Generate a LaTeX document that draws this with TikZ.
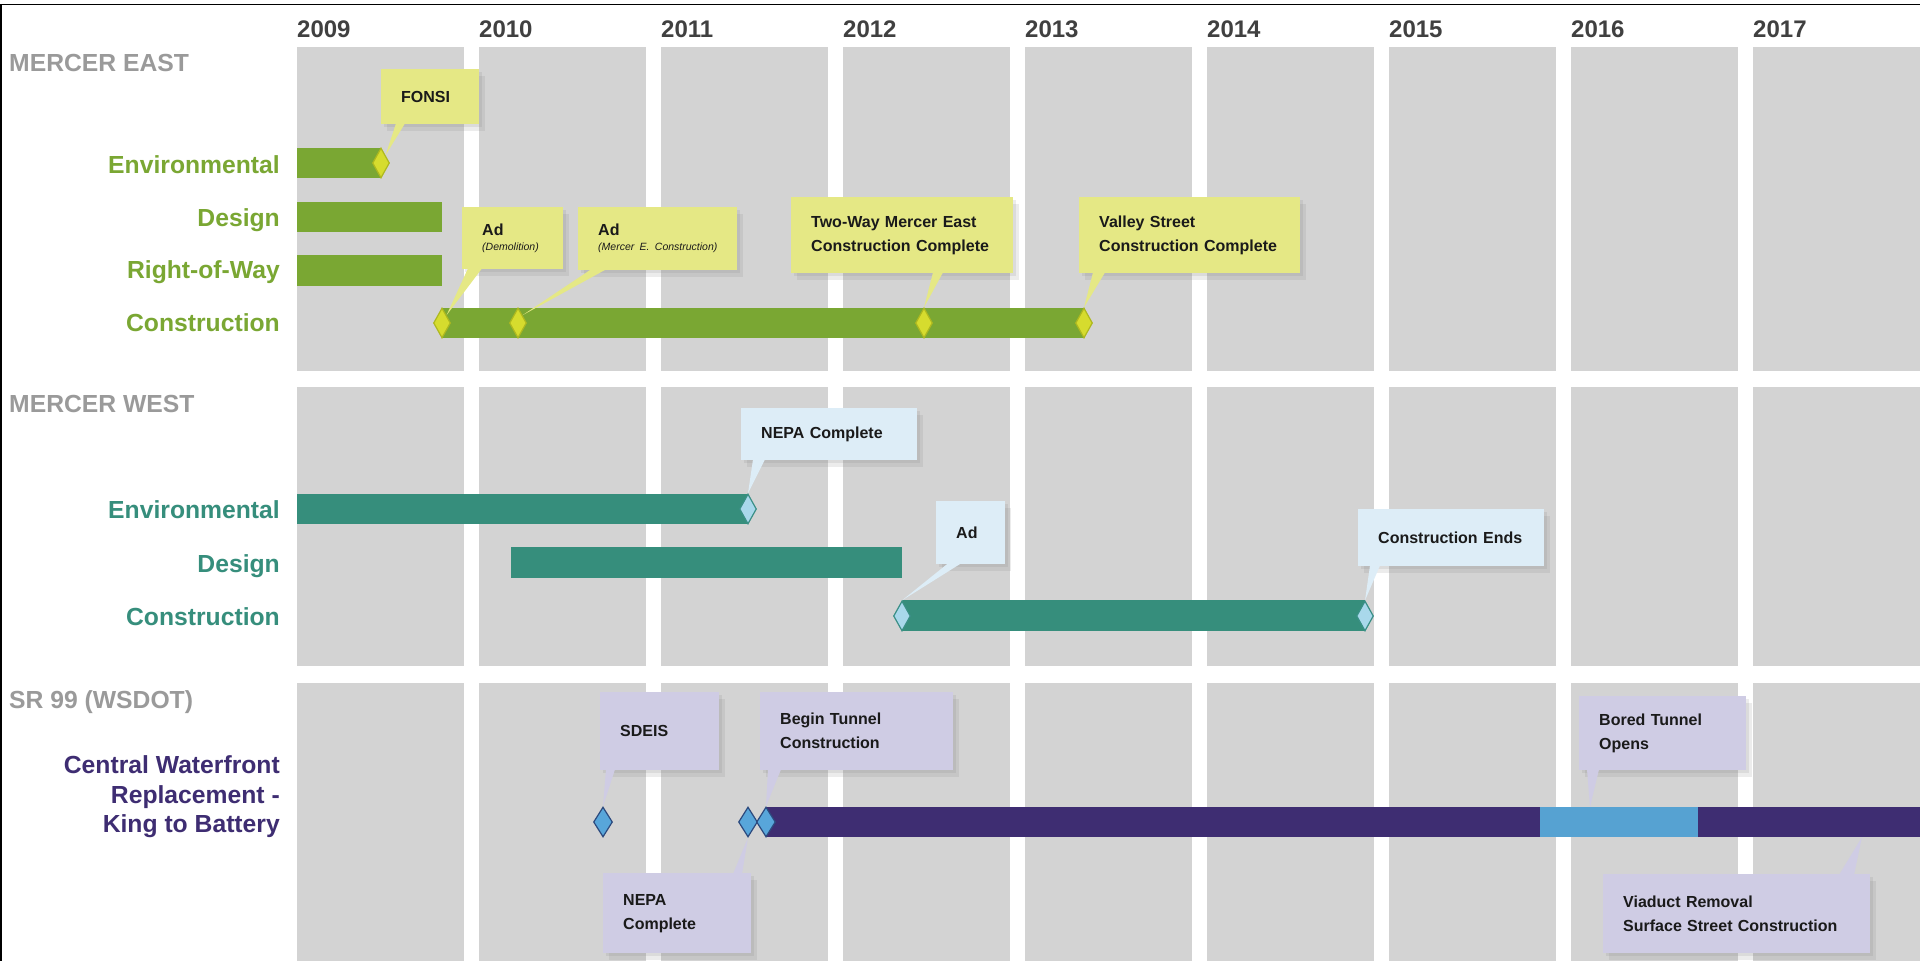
\documentclass[tikz,border=0pt]{standalone}
\usepackage{fontspec}
\setmainfont{Liberation Sans}
\usetikzlibrary{shapes.geometric,shadows,calc}

\definecolor{panelgray}{HTML}{D3D3D3}
\definecolor{headgray}{HTML}{9A9A9A}
\definecolor{yeargray}{HTML}{404040}
\definecolor{notetext}{HTML}{1A1A1A}
\definecolor{eastgreen}{HTML}{7AA733}
\definecolor{eastmark}{HTML}{D6DC2E}
\definecolor{eastmarkline}{HTML}{AEB81F}
\definecolor{eastnote}{HTML}{E5E885}
\definecolor{westteal}{HTML}{368E7C}
\definecolor{westmark}{HTML}{A9D8EB}
\definecolor{westmarkline}{HTML}{3A8F86}
\definecolor{westnote}{HTML}{DDEDF7}
\definecolor{srpurple}{HTML}{3E2D72}
\definecolor{srblue}{HTML}{56A2D2}
\definecolor{srmark}{HTML}{58A6DA}
\definecolor{srmarkline}{HTML}{2C4A7E}
\definecolor{srnote}{HTML}{CFCCE4}

\begin{document}
\begin{tikzpicture}[x=1pt, y=-1pt]
  \tikzstyle{every node}=[inner sep=0pt, font=\bfseries]
  \tikzstyle{header}=[anchor=base west, text=headgray, font=\fontsize{24.7}{29.5}\selectfont\bfseries]
  \tikzstyle{rowlabel}=[anchor=base east, font=\fontsize{24.7}{29.5}\selectfont\bfseries]
  \tikzstyle{yearlabel}=[anchor=base west, text=yeargray, font=\fontsize{24}{29}\selectfont\bfseries]
  \tikzstyle{note}=[anchor=north west, align=left, inner xsep=20pt, text=notetext,
    font=\fontsize{16}{24}\selectfont\bfseries,
    drop shadow={opacity=0.15, shadow xshift=3pt, shadow yshift=-3pt},
    drop shadow={opacity=0.15, shadow xshift=6pt, shadow yshift=-7pt}]
  \tikzstyle{milestone}=[diamond, minimum width=17pt, minimum height=30pt, line width=1.2pt]
  \newcommand{\subnote}[1]{\mbox{\fontsize{10.5}{12}\selectfont\mdseries\itshape #1}}

  \useasboundingbox (0,0) rectangle (1920,961);
  \fill[white] (0,0) rectangle (1920,961);
  \draw[line width=1.5pt] (0,4.5) -- (1920,4.5);
  \draw[line width=1.5pt] (1,4.5) -- (1,961);

  \foreach \yr [count=\i from 0] in {2009,...,2017}
  {
    \fill[panelgray] (297+182*\i, 47) rectangle ++(167, 324);
    \fill[panelgray] (297+182*\i, 387) rectangle ++(167, 279);
    \fill[panelgray] (297+182*\i, 683) rectangle ++(167, 278);
    \path (297+182*\i, 37) node[yearlabel] (y\yr) {\yr};
  }

  \path (9,71) node[header] (east) {MERCER EAST};
  \path (9,412) node[header] (west) {MERCER WEST};
  \path (9,708) node[header] (sr) {SR 99 (WSDOT)};

  \path (280,173) node[rowlabel, text=eastgreen] (eastEnv) {Environmental};
  \path (280,226) node[rowlabel, text=eastgreen] (eastDesign) {Design};
  \path (280,278) node[rowlabel, text=eastgreen] (eastRow) {Right-of-Way};
  \path (280,331) node[rowlabel, text=eastgreen] (eastCons) {Construction};
  \path (280,518) node[rowlabel, text=westteal] (westEnv) {Environmental};
  \path (280,572) node[rowlabel, text=westteal] (westDesign) {Design};
  \path (280,625) node[rowlabel, text=westteal] (westCons) {Construction};
  \path (280,797) node[anchor=east, align=right, text=srpurple,
    font=\fontsize{24.7}{29.5}\selectfont\bfseries] (srLine)
    {Central Waterfront\\Replacement -\\King to Battery};

  \fill[eastgreen] (297,148) rectangle (381,178);
  \fill[eastgreen] (297,202) rectangle (442,232);
  \fill[eastgreen] (297,255) rectangle (442,286);
  \fill[eastgreen] (442,308) rectangle (1085,338);

  \fill[westteal] (297,494) rectangle (748,524);
  \fill[westteal] (511,547) rectangle (902,578);
  \fill[westteal] (902,600) rectangle (1365,631);

  \fill[srpurple] (766,807) rectangle (1920,837);
  \fill[srblue] (1540,807) rectangle (1698,837);
  \coordinate (boredTip) at (1590,807);
  \coordinate (viaductTip) at (1862,837);

  \foreach \name/\x/\y in {fonsiMark/381/163, demoMark/442/323, consMark/518/323,
                          twowayMark/924/323, valleyMark/1084/323}
  {
    \path (\x,\y) node[milestone, fill=eastmark, draw=eastmarkline] (\name) {};
  }
  \foreach \name/\x/\y in {nepaWMark/748/509, adWMark/902/616, endsWMark/1365/616}
  {
    \path (\x,\y) node[milestone, fill=westmark, draw=westmarkline] (\name) {};
  }
  \foreach \name/\x/\y in {sdeisMark/603/822, nepaSMark/748/822, tunnelMark/766/822}
  {
    \path (\x,\y) node[milestone, minimum width=19pt, fill=srmark, draw=srmarkline] (\name) {};
  }

  \path (381,69) node[note, fill=eastnote, text width=58pt, minimum height=55pt] (fonsi) {FONSI};
  \path (462,207) node[note, fill=eastnote, text width=61pt, minimum height=62pt] (demo)
    {Ad\\[-9pt]\subnote{(Demolition)}};
  \path (578,207) node[note, fill=eastnote, text width=119pt, minimum height=63pt] (cons)
    {Ad\\[-9pt]\subnote{(Mercer E. Construction)}};
  \path (791,197) node[note, fill=eastnote, text width=182pt, minimum height=76pt] (twoway)
    {Two-Way Mercer East\\Construction Complete};
  \path (1079,197) node[note, fill=eastnote, text width=181pt, minimum height=76pt] (valley)
    {Valley Street\\Construction Complete};

  \path (741,408) node[note, fill=westnote, text width=136pt, minimum height=52pt] (nepaW) {NEPA Complete};
  \path (936,501) node[note, fill=westnote, text width=29pt, minimum height=63pt] (adW) {Ad};
  \path (1358,509) node[note, fill=westnote, text width=146pt, minimum height=57pt] (endsW) {Construction Ends};

  \path (600,692) node[note, fill=srnote, text width=79pt, minimum height=78pt] (sdeis) {SDEIS};
  \path (760,692) node[note, fill=srnote, text width=153pt, minimum height=78pt] (tunnel)
    {Begin Tunnel\\Construction};
  \path (603,873) node[note, fill=srnote, text width=108pt, minimum height=80pt] (nepaS)
    {NEPA\\Complete};
  \path (1579,696) node[note, fill=srnote, text width=127pt, minimum height=74pt] (bored)
    {Bored Tunnel\\Opens};
  \path (1603,874) node[note, fill=srnote, text width=227pt, minimum height=79pt] (viaduct)
    {Viaduct Removal\\Surface Street Construction};

  \fill[eastnote] ($(fonsi.south west)+(15,-1)$) -- (fonsiMark.north east) -- ($(fonsi.south west)+(24,-1)$) -- cycle;
  \fill[eastnote] ($(demo.south west)+(6,-1)$) -- (demoMark.north east) -- ($(demo.south west)+(20,-1)$) -- cycle;
  \fill[eastnote] ($(cons.south west)+(13,-1)$) -- (consMark.north east) -- ($(cons.south west)+(28,-1)$) -- cycle;
  \fill[eastnote] ($(twoway.south west)+(142,-1)$) -- (twowayMark.north) -- ($(twoway.south west)+(152,-1)$) -- cycle;
  \fill[eastnote] ($(valley.south west)+(14,-1)$) -- (valleyMark.north) -- ($(valley.south west)+(26,-1)$) -- cycle;

  \fill[westnote] ($(nepaW.south west)+(12,-1)$) -- (nepaWMark.north) -- ($(nepaW.south west)+(24,-1)$) -- cycle;
  \fill[westnote] ($(adW.south west)+(12,-1)$) -- (adWMark.north) -- ($(adW.south west)+(25,-1)$) -- cycle;
  \fill[westnote] ($(endsW.south west)+(12,-1)$) -- (endsWMark.north) -- ($(endsW.south west)+(22,-1)$) -- cycle;

  \fill[srnote] ($(sdeis.south west)+(6,-1)$) -- (sdeisMark.north) -- ($(sdeis.south west)+(15,-1)$) -- cycle;
  \fill[srnote] ($(tunnel.south west)+(8,-1)$) -- (tunnelMark.north) -- ($(tunnel.south west)+(21,-1)$) -- cycle;
  \fill[srnote] ($(nepaS.north west)+(130,1)$) -- (nepaSMark.south) -- ($(nepaS.north west)+(139,1)$) -- cycle;
  \fill[srnote] ($(bored.south west)+(8,-1)$) -- (boredTip) -- ($(bored.south west)+(20,-1)$) -- cycle;
  \fill[srnote] ($(viaduct.north west)+(236,1)$) -- (viaductTip) -- ($(viaduct.north west)+(251,1)$) -- cycle;
\end{tikzpicture}
\end{document}
